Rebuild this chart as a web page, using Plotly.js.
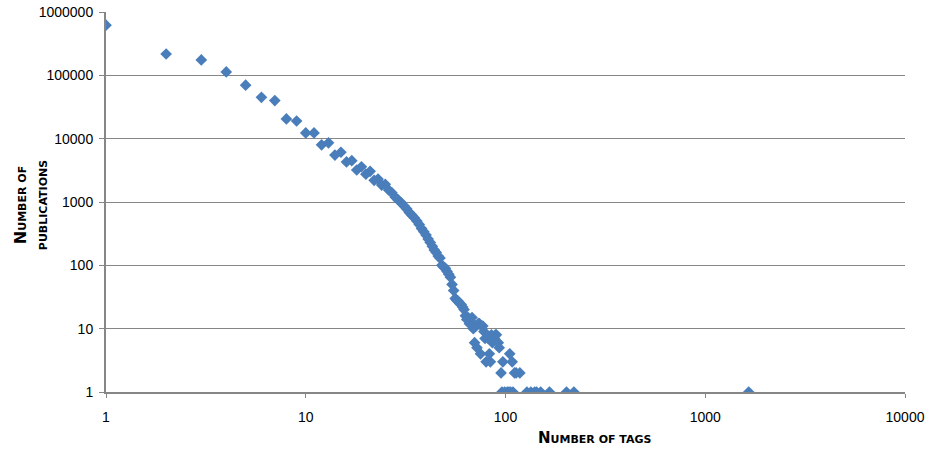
<!DOCTYPE html>
<html>
<head>
<meta charset="utf-8">
<script src="https://cdn.plot.ly/plotly-3.0.1.min.js"></script>
<style>html,body{margin:0;padding:0;background:#fff;}#chart{width:925px;height:452px;}</style>
</head>
<body>
<div id="chart"></div>
<script>
// Number of tags per publication vs. number of publications
const numTags = [
  1, 2, 3, 4, 5, 6, 7, 8, 9, 10,
  11, 12, 13, 14, 15, 16, 17, 18, 19, 20,
  21, 22, 23, 24, 25, 26, 27, 28, 29, 30,
  31, 32, 33, 34, 35, 36, 37, 38, 39, 40,
  41, 42, 43, 44, 45, 46, 47, 48, 49, 50,
  51, 52, 53, 54, 55, 56, 57, 58, 59, 60,
  61, 62, 63, 64, 65, 66, 67, 68, 69, 70,
  71, 72, 73, 74, 75, 76, 77, 78, 79, 80,
  82, 83, 84, 85, 86, 88, 89, 90, 92, 93,
  95, 96, 97, 99, 102, 104, 105, 106, 108, 109,
  111, 113, 118, 128, 134, 140, 143, 150, 166, 202,
  220, 1650
];
const numPublications = [
  620000, 217000, 175000, 113000, 70000, 45000, 40000, 20500, 19000, 12300,
  12300, 8000, 8600, 5500, 6100, 4300, 4500, 3200, 3600, 2750,
  3050, 2200, 2300, 1850, 1900, 1550, 1400, 1200, 1080, 980,
  870, 780, 680, 620, 560, 500, 440, 380, 340, 300,
  260, 230, 200, 175, 160, 140, 130, 100, 95, 90,
  80, 72, 65, 50, 40, 30, 28, 27, 25, 24,
  22, 20, 16, 14, 15, 12, 13, 15, 10, 6,
  11, 5, 12, 12, 4, 11, 11, 9, 7, 3,
  7, 4, 3, 8, 6, 7, 8, 8, 6, 5,
  2, 1, 3, 1, 1, 1, 4, 1, 3, 1,
  2, 2, 2, 1, 1, 1, 1, 1, 1, 1,
  1, 1
];
const xTickVals = [1, 10, 100, 1000, 10000];
const xTickText = ['1', '10', '100', '1000', '10000'];
const yTickVals = [1, 10, 100, 1000, 10000, 100000, 1000000];
const yTickText = ['1', '10', '100', '1000', '10000', '100000', '1000000'];

const trace = {
  x: numTags,
  y: numPublications,
  type: 'scatter',
  mode: 'markers',
  marker: {symbol: 'diamond', size: 9, color: '#4A7EBB', line: {width: 0}},
  hoverinfo: 'x+y'
};

const tickFont = {family: 'Liberation Sans, Arial, sans-serif', size: 14, color: '#000'};
const titleFont = {family: 'DejaVu Sans, sans-serif', size: 16, color: '#000'};
const layout = {
  width: 925, height: 452,
  margin: {l: 106, r: 20, t: 12, b: 60},
  paper_bgcolor: '#fff', plot_bgcolor: '#fff',
  showlegend: false,
  xaxis: {
    type: 'log', range: [0, 4],
    tickvals: xTickVals, ticktext: xTickText,
    showgrid: false, zeroline: false,
    showline: true, linecolor: '#868686', linewidth: 2,
    ticks: 'outside', ticklen: 4, tickcolor: '#868686', tickwidth: 1,
    ticklabelstandoff: 7,
    tickfont: tickFont
  },
  yaxis: {
    type: 'log', range: [0, 6],
    tickvals: yTickVals, ticktext: yTickText,
    showgrid: true, gridcolor: '#868686', gridwidth: 1,
    zeroline: false,
    showline: true, linecolor: '#868686', linewidth: 2,
    ticks: 'outside', ticklen: 5, tickcolor: '#868686', tickwidth: 1,
    ticklabelstandoff: 3,
    tickfont: tickFont
  },
  annotations: [
    {
      xref: 'paper', yref: 'paper', x: 0.612, y: -0.121, xanchor: 'center', yanchor: 'middle',
      showarrow: false,
      text: '<b>N<span style="font-size:11px">UMBER OF TAGS</span></b>',
      font: {family: 'DejaVu Sans, sans-serif', size: 15, color: '#000'}
    },
    {
      xref: 'paper', yref: 'paper', x: -0.095, y: 0.492, xanchor: 'center', yanchor: 'middle',
      showarrow: false, textangle: -90,
      text: '<b>N<span style="font-size:11px">UMBER OF</span></b><br><b><span style="font-size:11px">PUBLICATIONS</span></b>',
      font: titleFont
    }
  ]
};

Plotly.newPlot('chart', [trace], layout, {displayModeBar: false, staticPlot: true});
</script>
</body>
</html>
